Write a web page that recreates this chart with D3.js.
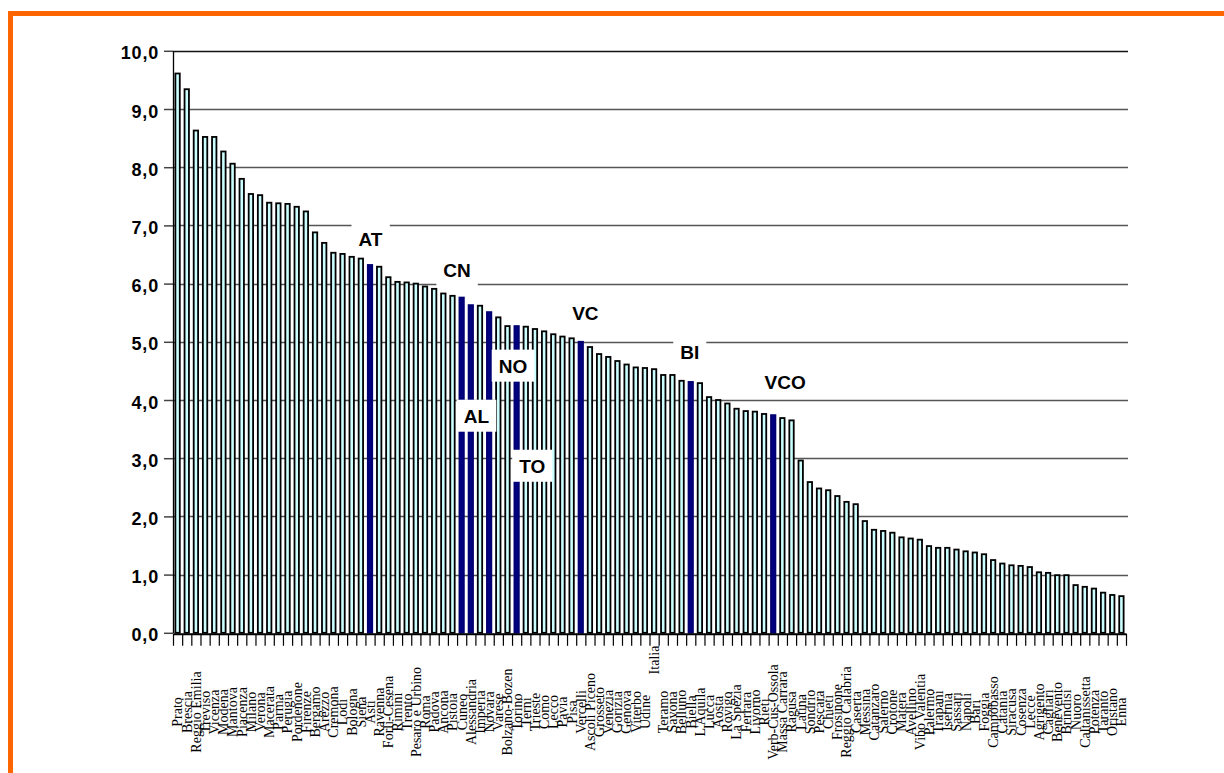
<!DOCTYPE html>
<html>
<head>
<meta charset="utf-8">
<script src="https://cdn.jsdelivr.net/npm/d3@7"></script>
<style>
  body { margin: 0; background: #fff; }
  .asse text { font-family: "Liberation Sans", Arial, sans-serif; font-weight: bold; font-size: 18px; letter-spacing: 0.8px; fill: #000; }
  .etichetta { font-family: "Liberation Serif", "Times New Roman", serif; font-size: 14px; fill: #000; }
  .sigla { font-family: "Liberation Sans", Arial, sans-serif; font-weight: bold; font-size: 19px; fill: #000; }
</style>
</head>
<body>
<div id="chart"></div>
<script>
// province in ordine decrescente
var provincie = ["Prato", "Brescia", "Reggio Emilia", "Treviso", "Vicenza", "Modena", "Mantova", "Piacenza",
  "Milano", "Verona", "Macerata", "Parma", "Perugia", "Pordenone", "Firenze", "Bergamo", "Arezzo", "Cremona",
  "Lodi", "Bologna", "Siena", "Asti", "Ravenna", "Forlì-Cesena", "Rimini", "Trento", "Pesaro e Urbino", "Roma",
  "Padova", "Ancona", "Pistoia", "Cuneo", "Alessandria", "Imperia", "Novara", "Varese", "Bolzano-Bozen", "Torino",
  "Terni", "Trieste", "Como", "Lecco", "Pavia", "Pisa", "Vercelli", "Ascoli Piceno", "Grosseto", "Venezia",
  "Gorizia", "Genova", "Viterbo", "Udine", "Italia", "Teramo", "Savona", "Belluno", "Biella", "L'Aquila", "Lucca",
  "Aosta", "Rovigo", "La Spezia", "Ferrara", "Livorno", "Rieti", "Verb-Cus-Ossola", "Massa Carrara", "Ragusa",
  "Latina", "Sondrio", "Pescara", "Chieti", "Frosinone", "Reggio Calabria", "Caserta", "Messina", "Catanzaro",
  "Salerno", "Crotone", "Matera", "Avellino", "Vibo Valentia", "Palermo", "Trapani", "Isernia", "Sassari",
  "Napoli", "Bari", "Foggia", "Campobasso", "Catania", "Siracusa", "Cosenza", "Lecce", "Agrigento", "Cagliari",
  "Benevento", "Brindisi", "Nuoro", "Caltanissetta", "Potenza", "Taranto", "Oristano", "Enna"];

var valori = [9.61, 9.34, 8.63, 8.52, 8.52, 8.27, 8.06, 7.80,
  7.54, 7.52, 7.39, 7.38, 7.37, 7.32, 7.24, 6.88, 6.70, 6.53,
  6.51, 6.46, 6.43, 6.32, 6.29, 6.11, 6.03, 6.02, 6.00, 5.95,
  5.91, 5.83, 5.79, 5.76, 5.63, 5.62, 5.51, 5.42, 5.27, 5.27,
  5.26, 5.22, 5.18, 5.13, 5.09, 5.06, 5.00, 4.91, 4.79, 4.74,
  4.67, 4.61, 4.56, 4.55, 4.53, 4.43, 4.43, 4.33, 4.31, 4.29, 4.05,
  4.00, 3.94, 3.85, 3.81, 3.80, 3.76, 3.74, 3.69, 3.65,
  2.96, 2.59, 2.48, 2.45, 2.35, 2.25, 2.21, 1.92, 1.77,
  1.75, 1.72, 1.64, 1.62, 1.60, 1.49, 1.46, 1.46, 1.43,
  1.40, 1.38, 1.35, 1.25, 1.19, 1.16, 1.15, 1.13, 1.04, 1.03,
  0.99, 0.99, 0.82, 0.79, 0.76, 0.69, 0.65, 0.63];

// province piemontesi evidenziate
var piemonte = ["Asti", "Cuneo", "Alessandria", "Novara", "Torino", "Vercelli", "Biella", "Verb-Cus-Ossola"];
var sigle = ["AT", "CN", "AL", "NO", "TO", "VC", "BI", "VCO"];

var yTicks = [0, 1, 2, 3, 4, 5, 6, 7, 8, 9, 10];

// parametri grafica
var width = 1224;
var height = 773;
var mSx = 173, mDx = 1126, mAlto = 50.8, mBasso = 632.8;
var barW = 4.4;

// posizione delle sigle (indice categoria, livello in unita del grafico)
var posSigle = {
  AT: [21.05, 6.77], CN: [30.5, 6.23], AL: [32.6, 3.73], NO: [36.6, 4.59],
  TO: [38.7, 2.87], VC: [44.5, 5.50], BI: [55.9, 4.82], VCO: [66.3, 4.30]
};

var data = provincie.map((p, i) => ({ nome: p, valore: valori[i] }));

var x = d3.scaleBand().domain(provincie).range([mSx, mDx]).padding(0);
var xIdx = d3.scaleLinear().domain([0, provincie.length]).range([mSx, mDx]);
var y = d3.scaleLinear().domain([0, 10]).range([mBasso, mAlto]);

var svg = d3.select("#chart").append("svg")
  .attr("width", width)
  .attr("height", height);

/* cornice arancione */
svg.append("line").attr("x1", 8).attr("x2", width).attr("y1", 13.5).attr("y2", 13.5)
  .attr("stroke", "#ff6600").attr("stroke-width", 5);
svg.append("line").attr("x1", 10.5).attr("x2", 10.5).attr("y1", 11).attr("y2", height)
  .attr("stroke", "#ff6600").attr("stroke-width", 5);

/* griglia */
svg.append("g")
  .selectAll("line")
  .data(yTicks.filter(d => d > 0)).enter()
  .append("line")
  .attr("x1", mSx).attr("x2", mDx + 2)
  .attr("y1", d => Math.round(y(d)) + 0.5)
  .attr("y2", d => Math.round(y(d)) + 0.5)
  .attr("stroke", d => d === 10 ? "#111" : "#555")
  .attr("stroke-width", 1.3);

/* barre */
svg.append("g")
  .selectAll("rect")
  .data(data).enter()
  .append("rect")
  .attr("x", d => x(d.nome) + x.bandwidth() / 2 - barW / 2)
  .attr("y", d => y(d.valore))
  .attr("width", barW)
  .attr("height", d => y(0) - y(d.valore))
  .attr("fill", d => piemonte.includes(d.nome) ? "#000080" : "#ccffff")
  .attr("stroke", d => piemonte.includes(d.nome) ? "#000070" : "#000")
  .attr("stroke-width", 1.8);

/* assi */
var xAxis = d3.axisBottom(xIdx).tickValues(d3.range(provincie.length + 1)).tickFormat("").tickSize(12).tickSizeOuter(0);
svg.append("g")
  .attr("class", "asse")
  .attr("transform", `translate(0, ${mBasso + 1})`)
  .call(xAxis)
  .call(g => g.selectAll("line").attr("stroke", "#000").attr("stroke-width", 1.2))
  .call(g => g.select(".domain").attr("stroke", "#000").attr("stroke-width", 2));

var yAxis = d3.axisLeft(y).tickValues(yTicks).tickFormat(d => d.toFixed(1).replace(".", ",")).tickSize(9).tickPadding(5).tickSizeOuter(0);
svg.append("g")
  .attr("class", "asse")
  .attr("transform", `translate(${mSx}, 0)`)
  .call(yAxis)
  .call(g => g.selectAll("line").attr("stroke", "#444").attr("stroke-width", 1.5))
  .call(g => g.select(".domain").attr("stroke", "#000").attr("stroke-width", 1.3))
  .call(g => g.selectAll("text").attr("dy", "0.45em"));

/* etichette province */
svg.append("g")
  .selectAll("text")
  .data(provincie).enter()
  .append("text")
  .attr("class", "etichetta")
  .attr("text-anchor", "middle")
  .attr("dy", "0.35em")
  .attr("transform", d => `translate(${x(d) + x.bandwidth() / 2}, ${d === "Italia" ? 660 : 712}) rotate(-90)`)
  .text(d => d);

/* sigle con sfondo bianco */
var gs = svg.append("g")
  .selectAll("g")
  .data(sigle).enter()
  .append("g")
  .attr("transform", d => `translate(${xIdx(posSigle[d][0] + 0.5)}, ${y(posSigle[d][1])})`);

gs.append("text")
  .attr("class", "sigla")
  .attr("text-anchor", "middle")
  .attr("dy", "0.36em")
  .text(d => d);

gs.each(function () {
  var g = d3.select(this);
  var bb = g.select("text").node().getBBox();
  g.insert("rect", "text")
    .attr("x", bb.x - 7)
    .attr("y", -16)
    .attr("width", bb.width + 14)
    .attr("height", 32)
    .attr("fill", "#fff");
});
</script>
</body>
</html>
